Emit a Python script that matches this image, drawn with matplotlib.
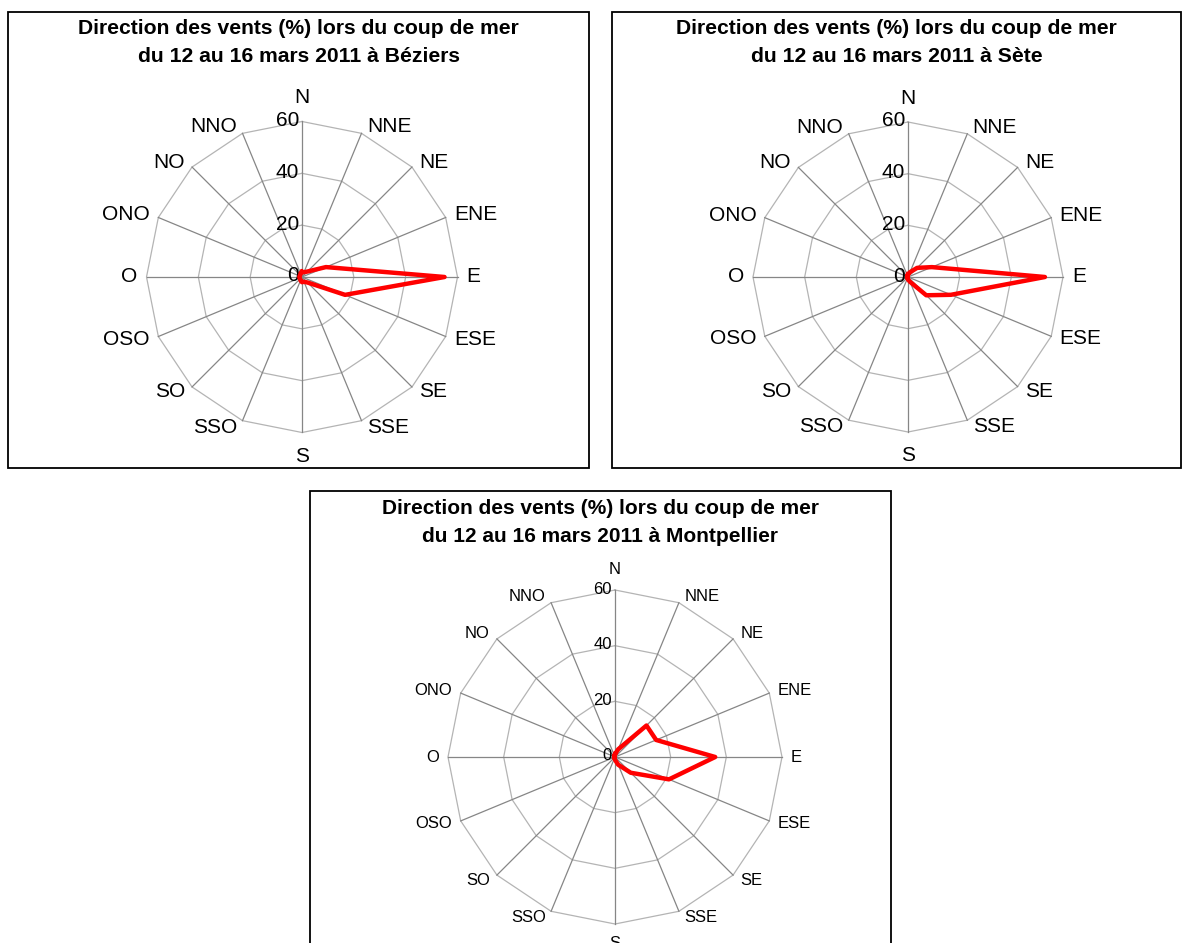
import numpy as np
import matplotlib
matplotlib.use("Agg")
import matplotlib.pyplot as plt
from matplotlib.patches import Rectangle

plt.rcParams['font.family'] = ['Liberation Sans', 'DejaVu Sans']

# ---------------- data ----------------
directions = ["N", "NNE", "NE", "ENE", "E", "ESE", "SE", "SSE",
              "S", "SSO", "SO", "OSO", "O", "ONO", "NO", "NNO"]
beziers = [2, 2, 3, 10, 55, 18, 3, 2, 2, 1.5, 1, 1, 1, 1, 1, 1.5]
sete = [1, 2, 5, 10, 53, 18, 10, 2, 1, 0.5, 0.5, 0, 0, 0, 0.5, 0.5]
montpellier = [1, 3, 16, 16, 36, 21, 8, 3, 1, 0.5, 0.5, 0, 0, 0, 0.5, 0.5]
ring_values = [0, 20, 40, 60]
titles = ["Direction des vents (%) lors du coup de mer\ndu 12 au 16 mars 2011 à Béziers",
          "Direction des vents (%) lors du coup de mer\ndu 12 au 16 mars 2011 à Sète",
          "Direction des vents (%) lors du coup de mer\ndu 12 au 16 mars 2011 à Montpellier"]

W, H = 1188, 943
fig = plt.figure(figsize=(W / 100, H / 100), dpi=100)
fig.patch.set_facecolor('white')


def px_rect(x0, y0, x1, y1):
    return [x0 / W, 1 - y1 / H, (x1 - x0) / W, (y1 - y0) / H]


def radar(center, r_px, values, title, box, title_y, lab_size, tick_size, title_size, ns_off):
    cx, cy = center
    # frame box
    x0, y0, x1, y1 = box
    fig.add_artist(Rectangle((x0 / W, 1 - y1 / H), (x1 - x0) / W, (y1 - y0) / H,
                             transform=fig.transFigure, fill=False,
                             ec='black', lw=1.3, clip_on=False))
    fig.text((x0 + x1) / 2 / W, 1 - title_y / H, title,
             ha='center', va='center', fontsize=title_size, fontweight='bold',
             linespacing=1.6)

    ax = fig.add_axes(px_rect(cx - r_px, cy - r_px, cx + r_px, cy + r_px), projection='polar')
    ax.set_theta_zero_location('N')
    ax.set_theta_direction(-1)
    ax.set_ylim(0, ring_values[-1])
    ax.grid(False)
    ax.spines['polar'].set_visible(False)
    ax.set_xticks([])
    ax.set_yticks([])
    ax.patch.set_visible(False)

    n = len(directions)
    theta = np.arange(n) * 2 * np.pi / n
    theta_c = np.append(theta, theta[0])
    # rings
    for r in ring_values[1:]:
        ax.plot(theta_c, [r] * (n + 1), color='#b4b4b4', lw=0.9, zorder=1, clip_on=False)
    # spokes
    for t in theta:
        ax.plot([t, t], [0, ring_values[-1]], color='#868686', lw=0.9, zorder=1, clip_on=False)
    # radial labels
    for r in ring_values:
        ax.annotate(str(r), xy=(0, r), xytext=(-3, 1), textcoords='offset pixels',
                    ha='right', va='center', fontsize=tick_size, annotation_clip=False)
    # category labels
    for t, lab in zip(theta, directions):
        s, c = np.sin(t), np.cos(t)
        if abs(s) < 1e-6:
            ha = 'center'
            dx, dy = 0, ns_off * np.sign(c)
        else:
            ha = 'left' if s > 0 else 'right'
            dx = s * 6 + 3 * np.sign(s)
            dy = c * 7
        ax.annotate(lab, xy=(t, ring_values[-1]), xytext=(dx, dy), textcoords='offset pixels',
                    ha=ha, va='center', fontsize=lab_size, annotation_clip=False)
    # data
    v = list(values) + [values[0]]
    ax.plot(theta_c, v, color='#ff0000', lw=3.2, zorder=5, clip_on=False,
            solid_joinstyle='round')


radar((302, 277), 155.5, beziers, titles[0], (8, 12, 589, 468), 42.5, 15, 15, 15.2, 24)
radar((908, 277), 155, sete, titles[1], (612, 12, 1181, 468), 42.5, 15, 15, 15.2, 24)
radar((615, 757), 167, montpellier, titles[2], (310, 491, 891, 960), 522.5, 12, 12, 15, 20)

fig.savefig("out.png", dpi=100)
